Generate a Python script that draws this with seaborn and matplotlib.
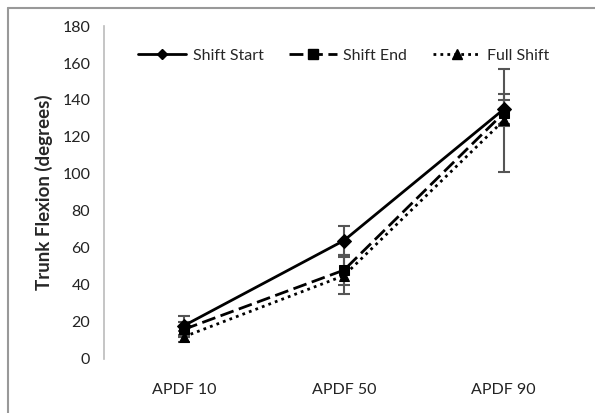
import numpy as np
import pandas as pd
import matplotlib
matplotlib.use("Agg")
import matplotlib.pyplot as plt
import seaborn as sns
from matplotlib.lines import Line2D

# dados
categorias = ["APDF 10", "APDF 50", "APDF 90"]
series = ["Shift Start", "Shift End", "Full Shift"]
shift_start = [18, 64, 135]
shift_end = [16, 48, 133]
full_shift = [12, 45, 129]
err_start = [5, 8, 8]
err_end = [4, 8, 7]
err_full = [3, 10, 28]

valores = [shift_start, shift_end, full_shift]
erros = [err_start, err_end, err_full]

df = pd.DataFrame({
    "cat": categorias * 3,
    "serie": np.repeat(series, 3),
    "valor": shift_start + shift_end + full_shift,
})

sns.set_style("white")
plt.rcParams["font.family"] = ["Lato", "DejaVu Sans"]

fig = plt.figure(figsize=(5.95, 4.13), dpi=100)
ax = fig.add_axes([0.175, 0.131, 0.806, 0.806])

estilos = {"Shift Start": (None, "D", 5), "Shift End": ((5, 2), "s", 7), "Full Shift": ((1, 1.5), "^", 7)}

# barras de erro primeiro (cinza)
for nome, v, e in zip(series, valores, erros):
    ax.errorbar(categorias, v, yerr=e, fmt="none", ecolor="#555555",
                elinewidth=1.5, capsize=4, capthick=1.5, zorder=2)

sns.lineplot(data=df, x="cat", y="valor", hue="serie", style="serie",
             palette=["black"] * 3, dashes={k: (v[0] if v[0] else "") for k, v in estilos.items()},
             markers={k: v[1] for k, v in estilos.items()}, markersize=7,
             linewidth=2, markeredgecolor="black", ax=ax, legend=False, zorder=3)

ax.set_xlim(-0.5, 2.5)
ax.set_ylim(0, 180)
ax.set_yticks(range(0, 181, 20))
ax.set_xticks([0.5, 1.5, 2.5], minor=True)
ax.set_xticks([0, 1, 2])
ax.set_xticklabels(categorias)
ax.tick_params(axis="x", which="major", length=0, pad=17, labelsize=11.5, colors="#222222")
ax.tick_params(axis="x", which="minor", length=4, color="#bbbbbb", width=1)
ax.tick_params(axis="y", length=4, color="#bbbbbb", labelsize=11.5, colors="#222222", pad=6)
ax.set_xlabel("")
ax.set_ylabel("Trunk Flexion (degrees)", fontsize=13.5, fontweight="bold", labelpad=7)

for lado in ["top", "right", "bottom"]:
    ax.spines[lado].set_visible(False)
ax.spines["left"].set_color("#bbbbbb")
ax.spines["left"].set_linewidth(1.2)

# legenda
alcas = []
for nome in series:
    d, m, ms = estilos[nome]
    alcas.append(Line2D([], [], color="black", lw=2, marker=m, markersize=ms,
                        linestyle="-" if d is None else (0, d)))
ax.legend(alcas, series, loc="upper center", bbox_to_anchor=(0.5, 0.975), ncol=3,
          frameon=False, fontsize=11.5, handlelength=3, columnspacing=1.6, handletextpad=0.4)

# moldura da figura (esquerda e topo)
fig.add_artist(Line2D([0.014, 0.014], [0, 0.981], transform=fig.transFigure, color="#999999", lw=1.5))
fig.add_artist(Line2D([0.014, 1], [0.981, 0.981], transform=fig.transFigure, color="#999999", lw=1.5))

fig.savefig("out.png", dpi=100)
